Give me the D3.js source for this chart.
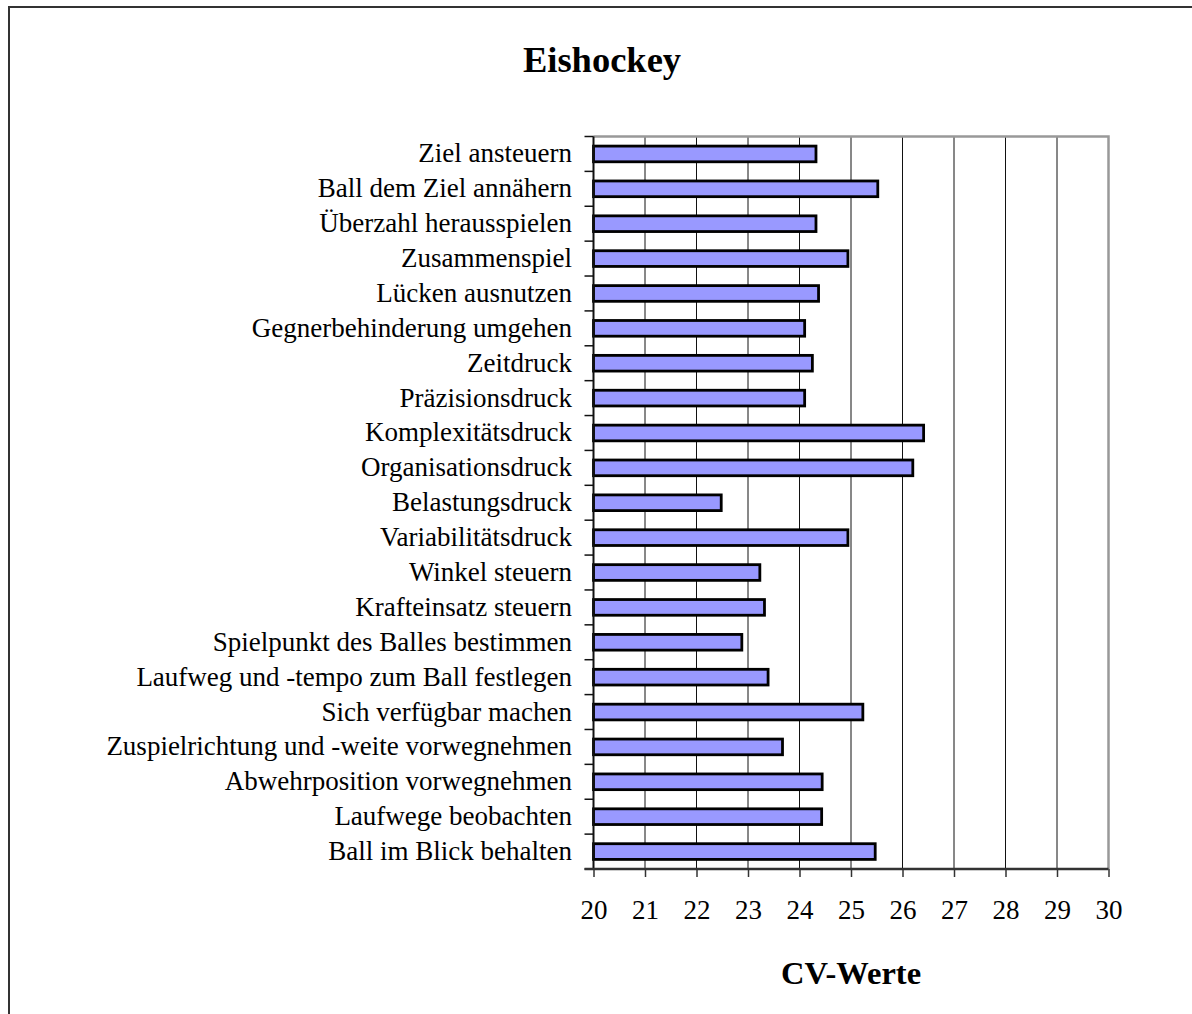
<!DOCTYPE html>
<html>
<head>
<meta charset="utf-8">
<script src="https://cdn.jsdelivr.net/npm/d3@7"></script>
<style>
  body { margin: 0; background: #fff; }
  text { font-family: "Liberation Serif", "Times New Roman", serif; fill: #000; }
</style>
</head>
<body>
<div id="chart"></div>
<script>
// Kategorien (von oben nach unten)
const categories = [
    'Ziel ansteuern',
    'Ball dem Ziel annähern',
    'Überzahl herausspielen',
    'Zusammenspiel',
    'Lücken ausnutzen',
    'Gegnerbehinderung umgehen',
    'Zeitdruck',
    'Präzisionsdruck',
    'Komplexitätsdruck',
    'Organisationsdruck',
    'Belastungsdruck',
    'Variabilitätsdruck',
    'Winkel steuern',
    'Krafteinsatz steuern',
    'Spielpunkt des Balles bestimmen',
    'Laufweg und -tempo zum Ball festlegen',
    'Sich verfügbar machen',
    'Zuspielrichtung und -weite vorwegnehmen',
    'Abwehrposition vorwegnehmen',
    'Laufwege beobachten',
    'Ball im Blick behalten'
];

// CV-Werte
const values = [
    24.32, 25.52, 24.32, 24.94, 24.37, 24.10, 24.25, 24.10, 26.41, 26.20, 22.48,
    24.94, 23.23, 23.32, 22.88, 23.39, 25.23, 23.67, 24.44, 24.43, 25.47
];

const xTicks = [20, 21, 22, 23, 24, 25, 26, 27, 28, 29, 30];
const title = 'Eishockey';
const xTitle = 'CV-Werte';

const data = categories.map((c, i) => ({ name: c, value: values[i] }));

const W = 1192, H = 1014;
const plot = { left: 593.5, right: 1108.5, top: 136.5, bottom: 869 };

const svg = d3.select('#chart')
    .append('svg')
    .attr('width', W)
    .attr('height', H);

// äußerer Rahmen (rechts und unten außerhalb des Bildes)
svg.append('rect')
    .attr('x', 9).attr('y', 7)
    .attr('width', W + 20).attr('height', H + 20)
    .attr('fill', 'none')
    .attr('stroke', '#333')
    .attr('stroke-width', 2);

// Titel
svg.append('text')
    .attr('x', 602).attr('y', 72)
    .attr('text-anchor', 'middle')
    .style('font-size', '36.5px')
    .style('font-weight', 'bold')
    .text(title);

const x = d3.scaleLinear()
    .domain([20, 30])
    .range([plot.left, plot.right]);

const y = d3.scaleBand()
    .domain(categories)
    .range([plot.top, plot.bottom])
    .paddingInner(0.55)
    .paddingOuter(0.275);

// Gitterlinien
svg.append('g')
    .selectAll('line')
    .data(xTicks.slice(1, -1))
    .join('line')
    .attr('x1', d => x(d)).attr('x2', d => x(d))
    .attr('y1', plot.top).attr('y2', plot.bottom)
    .attr('stroke', '#111')
    .attr('stroke-width', 1);

// Rahmen oben und rechts (grau)
svg.append('path')
    .attr('d', `M${plot.left},${plot.top}H${plot.right}V${plot.bottom}`)
    .attr('fill', 'none')
    .attr('stroke', '#999')
    .attr('stroke-width', 2.5);

// Balken
svg.append('g')
    .selectAll('rect')
    .data(data)
    .join('rect')
    .attr('x', x(20))
    .attr('y', d => y(d.name))
    .attr('width', d => x(d.value) - x(20))
    .attr('height', y.bandwidth())
    .attr('fill', '#9999ff')
    .attr('stroke', '#000')
    .attr('stroke-width', 2.8);

// y-Achse: Linie und Teilstriche an den Kategoriegrenzen
const bounds = categories.map(c => y(c) - y.step() * y.paddingInner() / 2);
bounds.push(plot.bottom);
bounds[0] = plot.top;
const yAxis = svg.append('g');
yAxis.append('line')
    .attr('x1', plot.left).attr('x2', plot.left)
    .attr('y1', plot.top).attr('y2', plot.bottom)
    .attr('stroke', '#111').attr('stroke-width', 2);
yAxis.selectAll('.tick')
    .data(bounds)
    .join('line')
    .attr('x1', plot.left - 9).attr('x2', plot.left)
    .attr('y1', d => d).attr('y2', d => d)
    .attr('stroke', '#111').attr('stroke-width', 1.5);

// Kategoriebeschriftungen
svg.append('g')
    .selectAll('text')
    .data(categories)
    .join('text')
    .attr('x', 572)
    .attr('y', d => y(d) + y.bandwidth() / 2 + 8.5)
    .attr('text-anchor', 'end')
    .style('font-size', '27px')
    .text(d => d);

// x-Achse
const xAxis = svg.append('g')
    .attr('transform', `translate(0,${plot.bottom})`)
    .call(d3.axisBottom(x).tickValues(xTicks).tickSize(8).tickPadding(0).tickFormat(d3.format('d')));
xAxis.select('.domain')
    .attr('d', `M${plot.left - 9},0H${plot.right}`)
    .attr('stroke', '#333').attr('stroke-width', 2.5);
xAxis.selectAll('.tick line').attr('stroke', '#333').attr('stroke-width', 1.5);
xAxis.selectAll('.tick text')
    .attr('y', 50)
    .attr('dy', 0)
    .style('font-family', '"Liberation Serif", "Times New Roman", serif')
    .style('font-size', '27px')
    .attr('fill', '#000');

// Achsentitel
svg.append('text')
    .attr('x', (plot.left + plot.right) / 2)
    .attr('y', 984)
    .attr('text-anchor', 'middle')
    .style('font-size', '32.5px')
    .style('font-weight', 'bold')
    .text(xTitle);
</script>
</body>
</html>
